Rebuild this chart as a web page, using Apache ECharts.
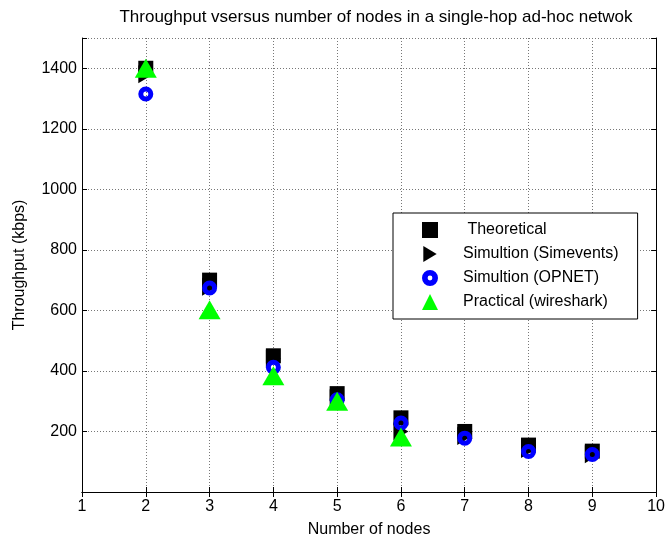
<!DOCTYPE html>
<html>
<head>
<meta charset="utf-8">
<script src="https://cdn.jsdelivr.net/npm/echarts@6/dist/echarts.min.js"></script>
<style>html,body{margin:0;padding:0;background:#fff;}#c{width:668px;height:543px;}</style>
</head>
<body>
<div id="c"></div>
<script>
const nodes = [2, 3, 4, 5, 6, 7, 8, 9];
const theoretical = [1400, 700, 450, 325, 245, 200, 155, 135];
const simevents = [1380, 678, 440, 310, 200, 185, 142, 125];
const opnet = [1315, 674, 412, 305, 228, 178, 134, 124];
const practicalNodes = [2, 3, 4, 5, 6];
const practical = [1400, 602, 384, 300, 182];
const yTicks = [200, 400, 600, 800, 1000, 1200, 1400];

const FONT = 'Liberation Sans, Arial, sans-serif';
function pairs(xs, ys) { return xs.map((x, i) => [x, ys[i]]); }
const triRight = 'path://M0,0 L10,6 L0,12 Z';
const ring = 'path://M0,8 A8,8 0 1,0 16,8 A8,8 0 1,0 0,8 Z M5.6,8 A2.4,2.4 0 1,1 10.4,8 A2.4,2.4 0 1,1 5.6,8 Z';

const chart = echarts.init(document.getElementById('c'));
const axisCommon = {
  axisLine: { show: true, lineStyle: { color: '#000', width: 1 } },
  axisTick: { show: true, inside: true, length: 5, lineStyle: { color: '#000' } }
};
chart.setOption({
  animation: false,
  backgroundColor: '#fff',
  title: {
    text: 'Throughput vsersus number of nodes in a single-hop ad-hoc netwok',
    left: 371, top: 4, textAlign: 'center',
    textStyle: { fontFamily: FONT, fontSize: 17, fontWeight: 'normal', color: '#000' }
  },
  grid: { left: 82, right: 7, top: 38, bottom: 48 },
  legend: {
    orient: 'vertical', left: 393, top: 213,
    padding: [9, 19, 9, 29],
    itemWidth: 16, itemHeight: 16, itemGap: 8,
    borderColor: '#000', borderWidth: 1, backgroundColor: '#fff',
    textStyle: { fontFamily: FONT, fontSize: 16, color: '#000', padding: [0, 0, 0, 20] },
    data: [
      ' Theoretical',
      'Simultion (Simevents)',
      { name: 'Simultion (OPNET)', icon: ring, itemStyle: { color: '#0000ff', borderWidth: 0 } },
      'Practical (wireshark)'
    ]
  },
  xAxis: [
    Object.assign({
      type: 'value', min: 1, max: 10, interval: 1,
      name: 'Number of nodes', nameLocation: 'middle', nameGap: 30,
      nameTextStyle: { fontFamily: FONT, fontSize: 16, color: '#000' },
      axisLabel: { fontFamily: FONT, fontSize: 16, color: '#000', margin: 7 },
      splitLine: { show: true, lineStyle: { color: '#777', type: [1, 2], width: 1 } }
    }, axisCommon),
    Object.assign({
      type: 'value', min: 1, max: 10, interval: 1, position: 'top',
      axisLabel: { show: false }, splitLine: { show: false }
    }, axisCommon)
  ],
  yAxis: [
    Object.assign({
      type: 'value', min: 0, max: 1500, interval: 200,
      name: 'Throughput (kbps)', nameLocation: 'middle', nameGap: 54,
      nameTextStyle: { fontFamily: FONT, fontSize: 16, color: '#000' },
      axisLabel: {
        fontFamily: FONT, fontSize: 16, color: '#000', margin: 5,
        formatter: v => (yTicks.indexOf(v) >= 0 ? String(v) : '')
      },
      splitLine: { show: true, lineStyle: { color: '#777', type: [1, 2], width: 1 } }
    }, axisCommon),
    Object.assign({
      type: 'value', min: 0, max: 1500, interval: 200, position: 'right',
      axisLabel: { show: false }, splitLine: { show: false }
    }, axisCommon)
  ],
  series: [
    {
      name: ' Theoretical', type: 'scatter', symbol: 'rect', symbolSize: 15,
      itemStyle: { color: '#000', opacity: 1 },
      data: pairs(nodes, theoretical)
    },
    {
      name: 'Simultion (Simevents)', type: 'scatter', symbol: triRight, symbolSize: [15, 18],
      itemStyle: { color: '#000', opacity: 1 },
      data: pairs(nodes, simevents)
    },
    {
      name: 'Simultion (OPNET)', type: 'scatter', symbol: 'circle', symbolSize: 10,
      itemStyle: { color: 'rgba(0,0,0,0)', borderColor: '#0000ff', borderWidth: 5, opacity: 1 },
      data: pairs(nodes, opnet)
    },
    {
      name: 'Practical (wireshark)', type: 'scatter', symbol: 'triangle', symbolSize: [22, 19],
      itemStyle: { color: '#00ff00', opacity: 1 },
      data: pairs(practicalNodes, practical)
    }
  ]
});
</script>
</body>
</html>
